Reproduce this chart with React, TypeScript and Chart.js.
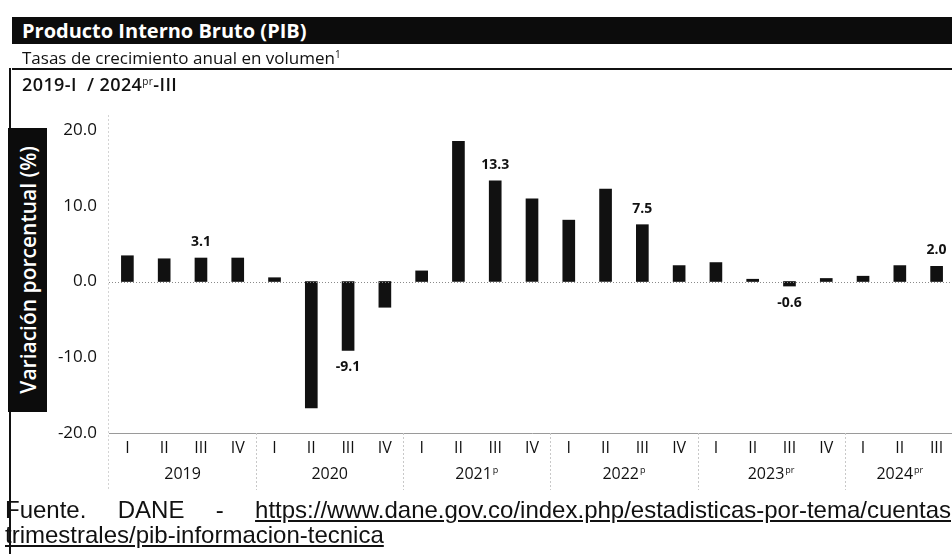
import React, { useEffect, useRef } from "react";
import { Chart, registerables } from "chart.js";

Chart.register(...registerables);

// ---- data ----
const quarters = [
  "I", "II", "III", "IV",
  "I", "II", "III", "IV",
  "I", "II", "III", "IV",
  "I", "II", "III", "IV",
  "I", "II", "III", "IV",
  "I", "II", "III",
];
const years = ["2019", "2020", "2021", "2022", "2023", "2024"];
const yearMarks = ["", "", "p", "p", "pr", "pr"];
const quartersPerYear = [4, 4, 4, 4, 4, 3];
const values = [
  3.4, 3.0, 3.1, 3.1,
  0.5, -16.7, -9.1, -3.4,
  1.4, 18.5, 13.3, 10.9,
  8.1, 12.2, 7.5, 2.1,
  2.5, 0.3, -0.6, 0.4,
  0.7, 2.1, 2.0,
];
const labeledQuarter = "III";
const yMin = -20;
const yMax = 20;
const yStep = 10;

const FONT = "'Open Sans', 'Noto Sans', sans-serif";

const overlayPlugin = {
  id: "overlay",
  afterDatasetsDraw(chart: any) {
    const { ctx, chartArea, scales } = chart;
    const x = scales.x;
    const y = scales.y;
    ctx.save();
    // zero line (dotted)
    const y0 = y.getPixelForValue(0);
    ctx.strokeStyle = "#8a8a8a";
    ctx.lineWidth = 1;
    ctx.setLineDash([1, 2]);
    ctx.beginPath();
    ctx.moveTo(chartArea.left, Math.round(y0) + 0.5);
    ctx.lineTo(chartArea.right, Math.round(y0) + 0.5);
    ctx.stroke();
    // faint vertical axis line
    ctx.strokeStyle = "#d4d4d4";
    ctx.setLineDash([2, 2]);
    ctx.beginPath();
    ctx.moveTo(chartArea.left - 0.5, chartArea.top - 15);
    ctx.lineTo(chartArea.left - 0.5, chartArea.bottom + 57);
    ctx.stroke();
    // year separators and year labels
    let idx = 0;
    const catW = x.getPixelForValue(1) - x.getPixelForValue(0);
    years.forEach((yr, i) => {
      const n = quartersPerYear[i];
      const first = x.getPixelForValue(idx);
      const last = x.getPixelForValue(idx + n - 1);
      const cx = (first + last) / 2;
      if (i > 0) {
        const sx = Math.round(first - catW / 2) + 0.5;
        ctx.strokeStyle = "#c8c8c8";
        ctx.setLineDash([2, 2]);
        ctx.beginPath();
        ctx.moveTo(sx, chartArea.bottom);
        ctx.lineTo(sx, chartArea.bottom + 57);
        ctx.stroke();
      }
      ctx.setLineDash([]);
      ctx.fillStyle = "#111";
      ctx.font = `400 16px ${FONT}`;
      const mainW = ctx.measureText(yr).width;
      ctx.font = `400 9px ${FONT}`;
      const supW = yearMarks[i] ? ctx.measureText(yearMarks[i]).width + 1 : 0;
      const startX = cx - (mainW + supW) / 2;
      ctx.textAlign = "left";
      ctx.textBaseline = "alphabetic";
      ctx.font = `400 16px ${FONT}`;
      ctx.fillText(yr, startX, chartArea.bottom + 46);
      if (yearMarks[i]) {
        ctx.font = `400 9px ${FONT}`;
        ctx.fillText(yearMarks[i], startX + mainW + 1, chartArea.bottom + 40);
      }
      idx += n;
    });
    // data labels
    ctx.setLineDash([]);
    ctx.font = `700 14px ${FONT}`;
    ctx.textAlign = "center";
    ctx.textBaseline = "middle";
    ctx.fillStyle = "#111";
    values.forEach((v, i) => {
      if (quarters[i] !== labeledQuarter) return;
      const px = x.getPixelForValue(i);
      const py = y.getPixelForValue(v);
      const ly = v >= 0 ? py - 16 : py + 17;
      ctx.fillText(v.toFixed(1), px, ly);
    });
    ctx.restore();
  },
};

export default function App() {
  const ref = useRef<HTMLCanvasElement | null>(null);
  useEffect(() => {
    if (!ref.current) return;
    const chart = new Chart(ref.current, {
      type: "bar",
      data: {
        labels: quarters,
        datasets: [
          {
            data: values,
            backgroundColor: "#111",
            borderWidth: 0,
            barThickness: 12,
          },
        ],
      },
      options: {
        animation: false,
        responsive: false,
        devicePixelRatio: 1,
        layout: { padding: { top: 130, left: 50, right: 0, bottom: 61 } },
        plugins: {
          legend: { display: false },
          tooltip: { enabled: false },
          title: { display: false },
        },
        scales: {
          x: {
            grid: { display: false, drawTicks: false },
            border: { display: true, color: "#9a9a9a", dash: [4, 4], width: 1 },
            ticks: {
              color: "#111",
              font: { family: FONT, size: 16 },
              padding: 6,
              maxRotation: 0,
              autoSkip: false,
            },
            afterFit(scale: any) {
              scale.height = 60;
            },
          },
          y: {
            min: yMin,
            max: yMax,
            grid: { display: false, drawTicks: false },
            border: { display: false },
            ticks: {
              stepSize: yStep,
              color: "#111",
              font: { family: FONT, size: 17 },
              padding: 12,
              callback: (v: any) => Number(v).toFixed(1),
            },
            afterFit(scale: any) {
              scale.width = 59;
            },
          },
        },
      },
      plugins: [overlayPlugin],
    });
    return () => chart.destroy();
  }, []);

  const abs = (s: React.CSSProperties): React.CSSProperties => ({ position: "absolute", ...s });

  return (
    <div
      style={{
        position: "absolute",
        left: 0,
        top: 0,
        width: 952,
        height: 554,
        overflow: "hidden",
        background: "#fff",
        fontFamily: FONT,
        color: "#111",
      }}
    >
      <canvas ref={ref} width={955} height={554} style={abs({ left: 0, top: 0, width: 955, height: 554 })} />
      <div
        style={abs({
          left: 12,
          top: 17,
          width: 940,
          height: 27,
          background: "#0c0c0c",
          color: "#fff",
          fontWeight: 700,
          fontSize: 20,
          lineHeight: "27px",
          paddingLeft: 10,
          boxSizing: "border-box",
          whiteSpace: "nowrap",
        })}
      >
        Producto Interno Bruto (PIB)
      </div>
      <div style={abs({ left: 22, top: 44, fontSize: 17, lineHeight: "20px", whiteSpace: "nowrap" })}>
        Tasas de crecimiento anual en volumen
        <span style={{ fontSize: 10, verticalAlign: "6px" }}>1</span>
      </div>
      <div style={abs({ left: 12, top: 68, width: 940, height: 2, background: "#111" })} />
      <div style={abs({ left: 9, top: 68, width: 2, height: 486, background: "#111" })} />
      <div
        style={abs({
          left: 22,
          top: 71,
          fontSize: 18,
          fontWeight: 600,
          lineHeight: "20px",
          whiteSpace: "nowrap",
          letterSpacing: 0.4,
        })}
      >
        2019-I&nbsp;&nbsp;/ 2024<span style={{ fontSize: 10, verticalAlign: "6px", fontWeight: 400 }}>pr</span>-III
      </div>
      <div
        style={abs({
          left: 8,
          top: 128,
          width: 39,
          height: 284,
          background: "#0c0c0c",
          display: "flex",
          alignItems: "center",
          justifyContent: "center",
        })}
      >
        <span
          style={{
            writingMode: "vertical-rl",
            transform: "rotate(180deg)",
            color: "#fff",
            fontWeight: 600,
            fontSize: 21,
            whiteSpace: "nowrap",
          }}
        >
          Variación porcentual (%)
        </span>
      </div>
      <div
        style={abs({
          left: 5,
          top: 497,
          width: 946,
          fontFamily: "'Liberation Sans', Arial, sans-serif",
          fontSize: 24,
          lineHeight: "25px",
          color: "#111",
        })}
      >
        <div style={{ display: "flex", justifyContent: "space-between", whiteSpace: "nowrap" }}>
          <span>Fuente.</span>
          <span>DANE</span>
          <span>-</span>
          <span style={{ textDecoration: "underline" }}>
            https://www.dane.gov.co/index.php/estadisticas-por-tema/cuentas
          </span>
        </div>
        <div style={{ whiteSpace: "nowrap" }}>
          <span style={{ textDecoration: "underline" }}>trimestrales/pib-informacion-tecnica</span>
        </div>
      </div>
    </div>
  );
}
